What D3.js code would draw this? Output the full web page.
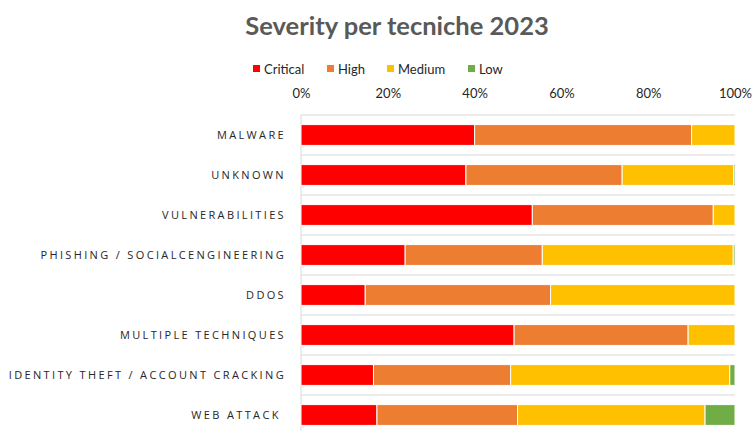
<!DOCTYPE html>
<html><head><meta charset="utf-8">
<script src="https://cdn.jsdelivr.net/npm/d3@7"></script>
<style>
body{margin:0;background:#fff;}
svg{display:block;}
text{white-space:pre;}
</style></head>
<body>
<svg id="c" width="753" height="431"></svg>
<script>
const categories = ["MALWARE","UNKNOWN","VULNERABILITIES","PHISHING / SOCIALCENGINEERING","DDOS","MULTIPLE TECHNIQUES","IDENTITY THEFT / ACCOUNT CRACKING","WEB ATTACK "];
const seriesNames = ["Critical","High","Medium","Low"];
const critical = [40.0, 38.0, 53.3, 24.0, 14.8, 49.1, 16.7, 17.5];
const high     = [50.0, 36.0, 41.7, 31.6, 42.7, 40.1, 31.6, 32.4];
const medium   = [10.0, 25.7, 5.0, 44.0, 42.5, 10.8, 50.5, 43.2];
const low      = [0.0, 0.3, 0.0, 0.4, 0.0, 0.0, 1.2, 6.9];
const tickValues = [0, 0.2, 0.4, 0.6, 0.8, 1.0];
const colors = ["#FF0000","#ED7D31","#FFC000","#70AD47"];

const svg = d3.select("#c");
const x = d3.scaleLinear().domain([0,1]).range([301,735]);
const y = d3.scaleBand().domain(categories).range([115,435]).paddingInner(0.48).paddingOuter(0.24);

const rows = categories.map((c,i)=>({cat:c, Critical:critical[i], High:high[i], Medium:medium[i], Low:low[i]}));
const stacked = d3.stack().keys(seriesNames).offset(d3.stackOffsetExpand)(rows);

// gridlines between categories
const bounds = categories.map((c,i)=>115 + i*(320/categories.length));
svg.append("g").selectAll("line").data(bounds).join("line")
  .attr("x1",301).attr("x2",735).attr("y1",d=>d).attr("y2",d=>d)
  .attr("stroke","#d9d9d9").attr("stroke-width",1);
svg.append("line").attr("x1",301).attr("x2",301).attr("y1",115).attr("y2",431)
  .attr("stroke","#d9d9d9").attr("stroke-width",1);

// bars
stacked.forEach((s,si)=>{
  svg.append("g").selectAll("rect").data(s).join("rect")
    .attr("x",d=>x(d[0]))
    .attr("width",d=>Math.max(0,x(d[1])-x(d[0])))
    .attr("y",d=>y(d.data.cat))
    .attr("height",y.bandwidth())
    .attr("fill",colors[si])
    .attr("stroke","#fff").attr("stroke-width",1);
});

// top axis
const ax = svg.append("g").attr("transform","translate(0,101)")
  .call(d3.axisTop(x).tickValues(tickValues).tickFormat(d3.format(".0%")).tickSize(0));
ax.select(".domain").remove();
ax.selectAll("text").attr("font-family","Lato, 'Open Sans', sans-serif").attr("font-size",13).attr("fill","#262626").attr("dy",0);

// category labels
const ay = svg.append("g").attr("transform","translate(286,0)")
  .call(d3.axisLeft(y).tickSize(0).tickPadding(0));
ay.select(".domain").remove();
ay.selectAll("text").attr("font-family","'Open Sans', sans-serif").attr("font-size",11)
  .attr("letter-spacing","2.35px").attr("fill","#262626");

// title
svg.append("text").attr("x",397).attr("y",35).attr("text-anchor","middle")
  .attr("font-family","Lato, sans-serif").attr("font-weight","bold").attr("font-size",25.5)
  .attr("fill","#595959").text("Severity per tecniche 2023");

// legend
const legX = [253, 327, 387, 468];
const lg = svg.append("g");
seriesNames.forEach((n,i)=>{
  lg.append("rect").attr("x",legX[i]).attr("y",65).attr("width",7).attr("height",7).attr("fill",colors[i]);
  lg.append("text").attr("x",legX[i]+11).attr("y",73.5).attr("font-family","Lato, sans-serif")
    .attr("font-size",13).attr("fill","#262626").text(n);
});
</script>
</body></html>
